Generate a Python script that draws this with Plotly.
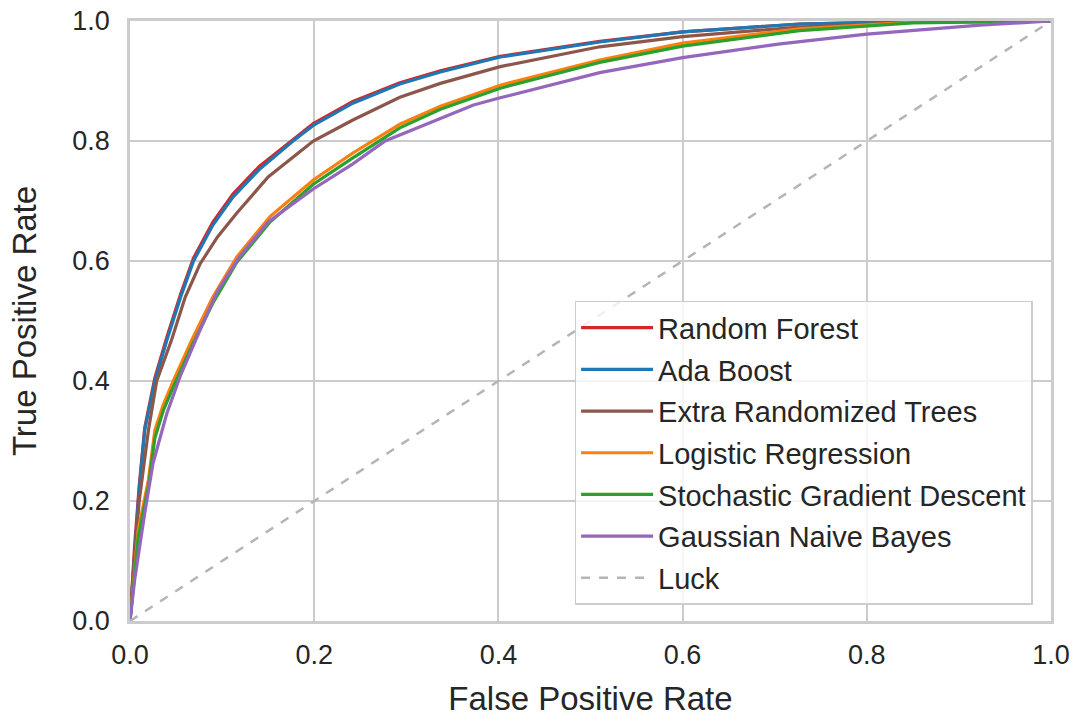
import plotly.graph_objects as go

# ---- data ----
rf_fpr = [0, 0.005, 0.01, 0.016, 0.027, 0.04, 0.055, 0.069, 0.09, 0.112, 0.14, 0.177, 0.199, 0.242, 0.293, 0.337, 0.402, 0.51, 0.60, 0.727, 0.85, 1.0]
rf_tpr = [0, 0.125, 0.225, 0.322, 0.405, 0.473, 0.545, 0.605, 0.665, 0.712, 0.757, 0.803, 0.829, 0.866, 0.897, 0.917, 0.941, 0.966, 0.982, 0.995, 0.999, 1.0]

ab_fpr = [0, 0.005, 0.01, 0.016, 0.027, 0.04, 0.055, 0.069, 0.09, 0.112, 0.14, 0.177, 0.199, 0.242, 0.293, 0.337, 0.402, 0.51, 0.60, 0.727, 0.85, 1.0]
ab_tpr = [0, 0.12, 0.22, 0.318, 0.40, 0.468, 0.54, 0.60, 0.66, 0.707, 0.752, 0.80, 0.826, 0.863, 0.895, 0.915, 0.94, 0.965, 0.982, 0.995, 0.999, 1.0]

et_fpr = [0, 0.005, 0.01, 0.02, 0.029, 0.045, 0.06, 0.076, 0.095, 0.116, 0.15, 0.199, 0.242, 0.293, 0.337, 0.402, 0.51, 0.60, 0.727, 0.85, 1.0]
et_tpr = [0, 0.11, 0.20, 0.318, 0.40, 0.468, 0.54, 0.595, 0.64, 0.68, 0.74, 0.80, 0.835, 0.873, 0.896, 0.924, 0.957, 0.974, 0.99, 0.998, 1.0]

lr_fpr = [0, 0.004, 0.009, 0.02, 0.027, 0.036, 0.047, 0.067, 0.09, 0.116, 0.152, 0.199, 0.242, 0.293, 0.337, 0.402, 0.51, 0.60, 0.727, 0.85, 1.0]
lr_tpr = [0, 0.07, 0.152, 0.235, 0.318, 0.36, 0.40, 0.468, 0.54, 0.607, 0.674, 0.735, 0.78, 0.828, 0.858, 0.893, 0.935, 0.963, 0.987, 0.998, 1.0]

sgd_fpr = [0, 0.004, 0.009, 0.02, 0.027, 0.036, 0.047, 0.067, 0.09, 0.116, 0.152, 0.199, 0.242, 0.293, 0.337, 0.402, 0.51, 0.60, 0.727, 0.85, 1.0]
sgd_tpr = [0, 0.06, 0.14, 0.225, 0.305, 0.35, 0.39, 0.458, 0.53, 0.598, 0.665, 0.728, 0.772, 0.822, 0.853, 0.888, 0.931, 0.958, 0.984, 0.997, 1.0]

gnb_fpr = [0, 0.005, 0.016, 0.025, 0.04, 0.055, 0.076, 0.095, 0.119, 0.15, 0.199, 0.242, 0.277, 0.337, 0.373, 0.402, 0.51, 0.60, 0.706, 0.80, 0.923, 1.0]
gnb_tpr = [0, 0.068, 0.18, 0.263, 0.346, 0.41, 0.485, 0.55, 0.607, 0.665, 0.72, 0.762, 0.80, 0.838, 0.86, 0.872, 0.914, 0.939, 0.962, 0.978, 0.993, 1.0]

luck_x = [0, 1]
luck_y = [0, 1]

names = ["Random Forest", "Ada Boost", "Extra Randomized Trees",
         "Logistic Regression", "Stochastic Gradient Descent", "Gaussian Naive Bayes"]
colors = ["#d62728", "#1f77b4", "#8c564b", "#ff7f0e", "#2ca02c", "#9467bd"]
series = [(rf_fpr, rf_tpr), (ab_fpr, ab_tpr), (et_fpr, et_tpr),
          (lr_fpr, lr_tpr), (sgd_fpr, sgd_tpr), (gnb_fpr, gnb_tpr)]

tick_vals = [0.0, 0.2, 0.4, 0.6, 0.8, 1.0]
tick_text = ["0.0", "0.2", "0.4", "0.6", "0.8", "1.0"]

FONT = "Liberation Sans, Arial, sans-serif"
TXT = "#262626"

fig = go.Figure()
for i, (name, col, (fx, ty)) in enumerate(zip(names, colors, series)):
    fig.add_trace(go.Scatter(x=fx, y=ty, mode="lines", name=name,
                             line=dict(color=col, width=3.2), legendgroup=f"g{i}"))
fig.add_trace(go.Scatter(x=luck_x, y=luck_y, mode="lines", name="Luck",
                         line=dict(color="#b5b5b5", width=2.5, dash="dash"),
                         legendgroup="g_luck"))

axis_common = dict(
    range=[0, 1], tickvals=tick_vals, ticktext=tick_text,
    showgrid=True, gridcolor="#cccccc", gridwidth=2,
    showline=True, linecolor="#cccccc", linewidth=2.5, mirror=True,
    zeroline=False, ticks="", automargin=False,
    tickfont=dict(family=FONT, size=27, color=TXT),
)

fig.update_layout(
    width=1078, height=722,
    margin=dict(l=130, r=27, t=21, b=101),
    paper_bgcolor="white", plot_bgcolor="white",
    font=dict(family=FONT, color=TXT),
    xaxis=dict(**axis_common, ticklabelstandoff=8,
               title=dict(text="False Positive Rate", font=dict(family=FONT, size=33, color=TXT), standoff=18)),
    yaxis=dict(**axis_common, ticklabelstandoff=12,
               title=dict(text="True Positive Rate", font=dict(family=FONT, size=33, color=TXT), standoff=26)),
    legend=dict(
        x=0.98, xanchor="right", y=0.027, yanchor="bottom",
        bgcolor="rgba(255,255,255,0.8)", bordercolor="#cccccc", borderwidth=1.5,
        font=dict(family=FONT, size=29, color=TXT),
        itemwidth=72, tracegroupgap=1, traceorder="grouped",
    ),
)

fig.write_html("out.html")
